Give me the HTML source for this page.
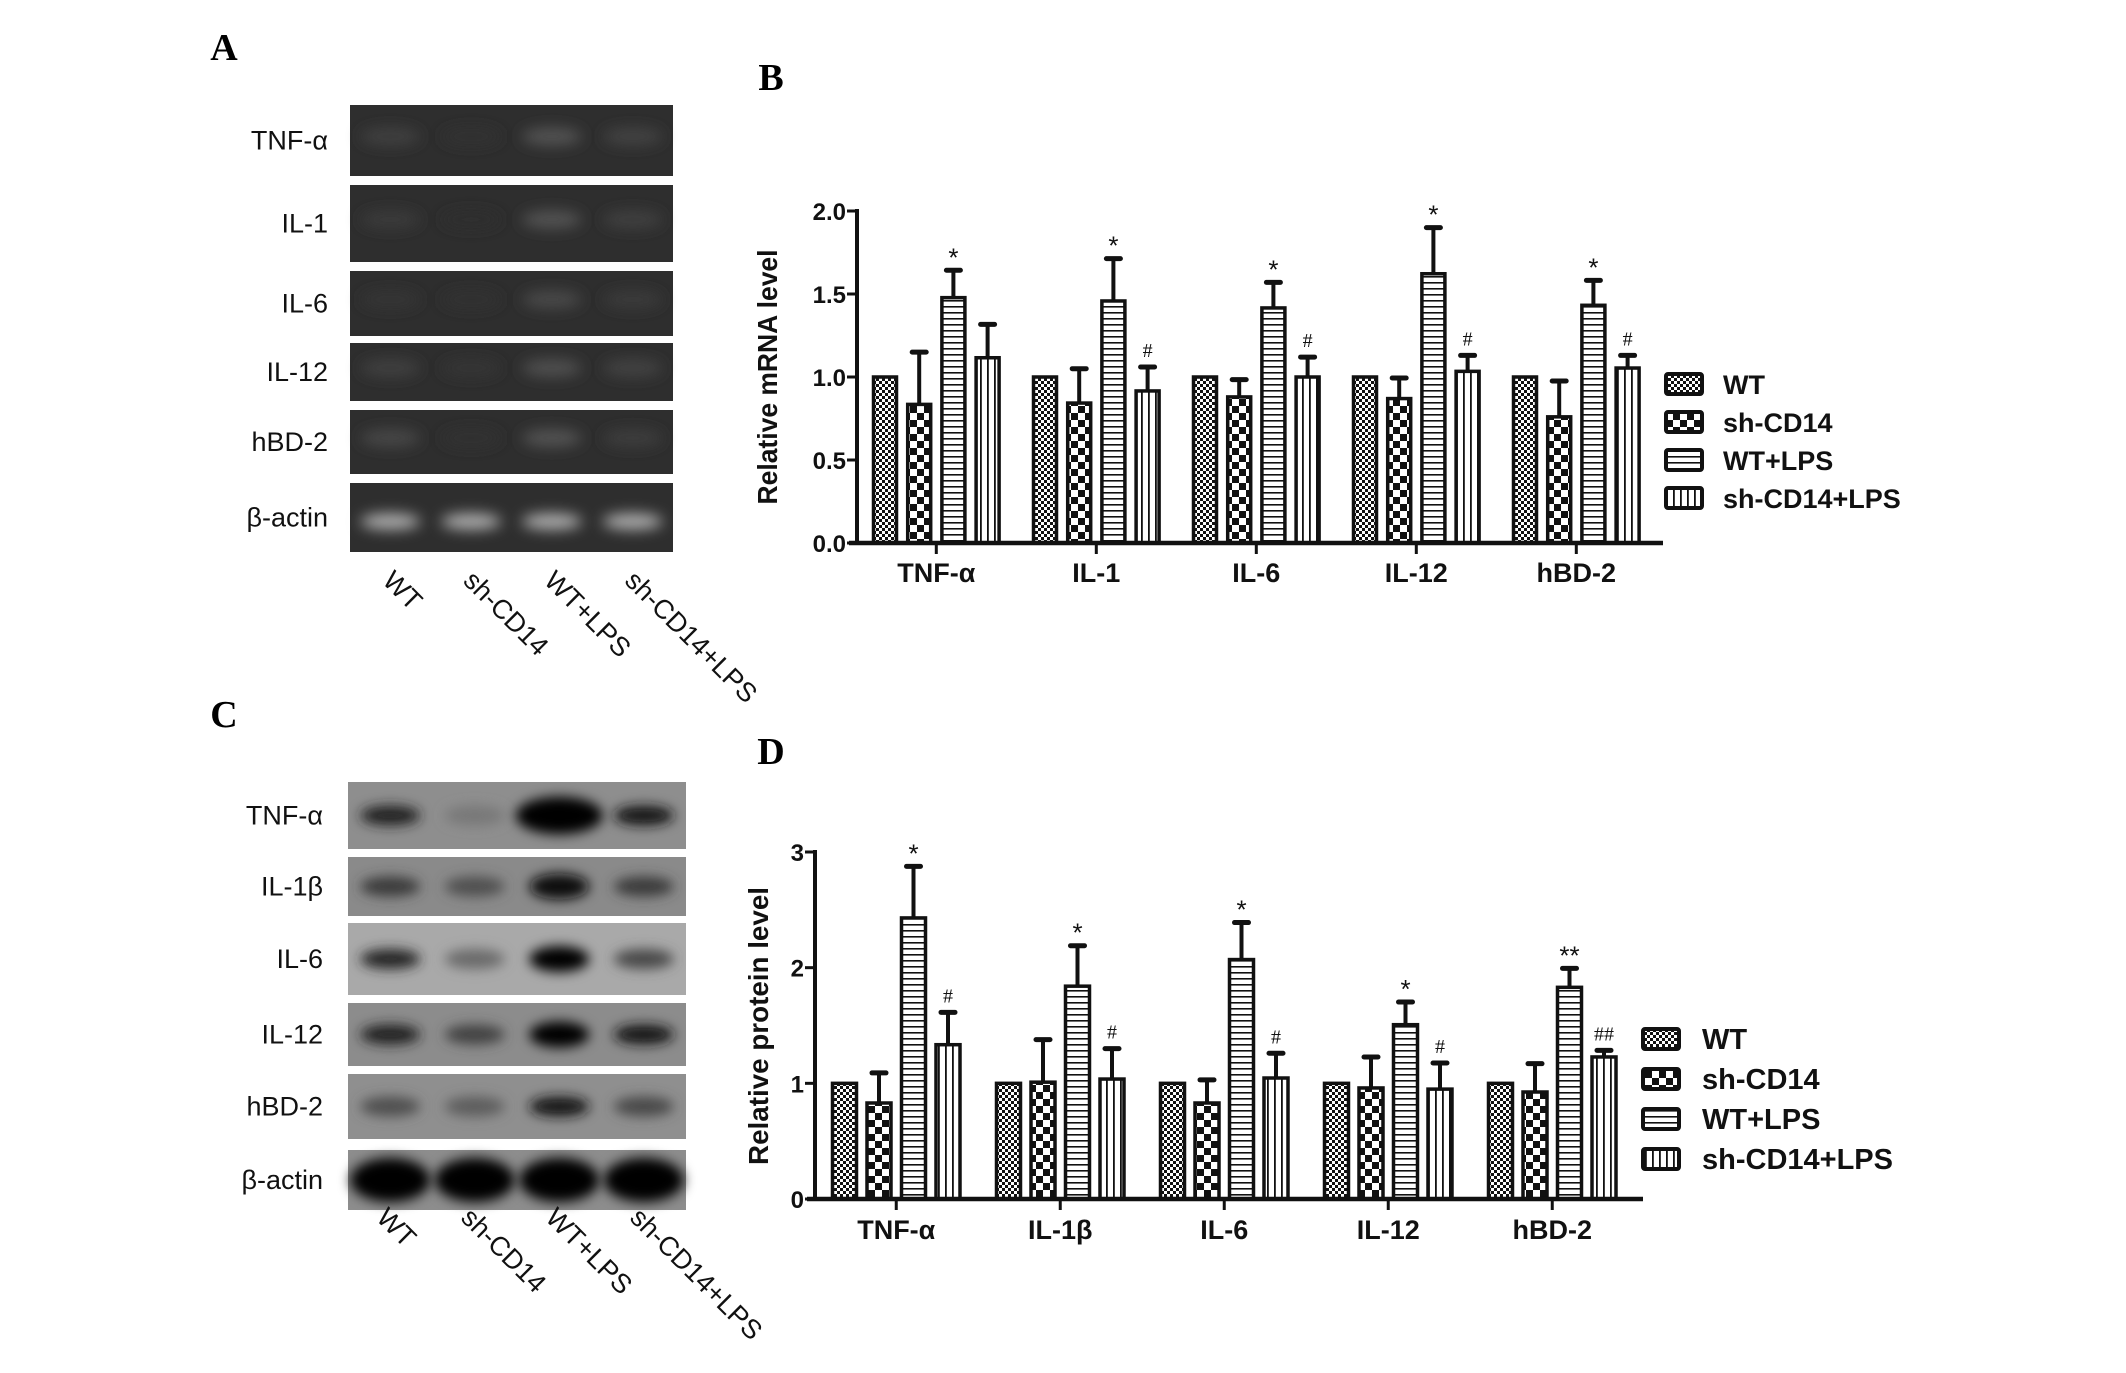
<!DOCTYPE html>
<html><head><meta charset="utf-8"><style>
html,body{margin:0;padding:0;background:#fff;}
svg{display:block;}
</style></head><body>
<svg id="fig" width="2126" height="1373" viewBox="0 0 2126 1373" xmlns="http://www.w3.org/2000/svg" font-family="Liberation Sans, sans-serif">
<defs>
<pattern id="pWT" patternUnits="userSpaceOnUse" width="6" height="6"><rect width="6" height="6" fill="#fff"/><rect width="3" height="3" fill="#111"/><rect x="3" y="3" width="3" height="3" fill="#111"/></pattern>
<pattern id="pSH" patternUnits="userSpaceOnUse" width="14" height="14"><rect width="14" height="14" fill="#fff"/><rect width="7" height="7" fill="#111"/><rect x="7" y="7" width="7" height="7" fill="#111"/></pattern>
<pattern id="pH" patternUnits="userSpaceOnUse" width="8" height="6"><rect width="8" height="6" fill="#fff"/><rect y="0" width="8" height="1.6" fill="#111"/></pattern>
<pattern id="pV" patternUnits="userSpaceOnUse" width="7" height="8"><rect width="7" height="8" fill="#fff"/><rect x="0" width="1.8" height="8" fill="#111"/></pattern>
<filter id="blurA" x="-50%" y="-100%" width="200%" height="300%"><feGaussianBlur stdDeviation="7"/></filter>
<filter id="blurC" x="-50%" y="-100%" width="200%" height="300%"><feGaussianBlur stdDeviation="6"/></filter>
</defs>
<g id="panelA"></g>
<g id="panelC"></g>
<g id="chartB"></g>
<g id="chartD"></g>
</svg>
<script>
// ---- Panel B data (relative mRNA level)
const categoriesB = ["TNF-α","IL-1","IL-6","IL-12","hBD-2"];
const seriesNames = ["WT","sh-CD14","WT+LPS","sh-CD14+LPS"];
const wtB = [1,1,1,1,1];
const shB = [0.835,0.843,0.88,0.87,0.76];
const lpsB = [1.478,1.458,1.416,1.622,1.432];
const shlpsB = [1.116,0.916,1.0,1.034,1.054];
const shErrB = [1.15,1.05,0.984,0.994,0.976];
const lpsErrB = [1.643,1.713,1.57,1.9,1.582];
const shlpsErrB = [1.317,1.06,1.12,1.13,1.13];
const lpsMarkB = ["*","*","*","*","*"];
const shlpsMarkB = ["","#","#","#","#"];
const ticksB = [0,0.5,1.0,1.5,2.0];
const tickLabelsB = ["0.0","0.5","1.0","1.5","2.0"];

// ---- Panel D data (relative protein level)
const categoriesD = ["TNF-α","IL-1β","IL-6","IL-12","hBD-2"];
const wtD = [1,1,1,1,1];
const shD = [0.83,1.01,0.83,0.96,0.925];
const lpsD = [2.43,1.84,2.07,1.507,1.83];
const shlpsD = [1.334,1.037,1.046,0.95,1.228];
const shErrD = [1.09,1.378,1.03,1.228,1.17];
const lpsErrD = [2.876,2.19,2.39,1.703,1.994];
const shlpsErrD = [1.614,1.30,1.26,1.176,1.285];
const lpsMarkD = ["*","*","*","*","**"];
const shlpsMarkD = ["#","#","#","#","##"];
const ticksD = [0,1,2,3];
const tickLabelsD = ["0","1","2","3"];

// ---- Gel band intensities
const gelRowsA = ["TNF-α","IL-1","IL-6","IL-12","hBD-2","β-actin"];
const gelA = [[0.3,0.08,0.6,0.35],[0.2,0.02,0.6,0.3],[0.12,0.05,0.45,0.22],[0.28,0.12,0.55,0.35],[0.4,0.08,0.6,0.25],[1,1,1,1]];
const gelRowsC = ["TNF-α","IL-1β","IL-6","IL-12","hBD-2","β-actin"];
const gelC = [[0.8,0.15,1.0,0.85],[0.6,0.45,0.95,0.6],[0.75,0.25,1.0,0.5],[0.8,0.55,1.0,0.85],[0.45,0.35,0.9,0.5],[1,1,1,1]];
const laneNames = ["WT","sh-CD14","WT+LPS","sh-CD14+LPS"];

const NS="http://www.w3.org/2000/svg";
function mk(tag, attrs, parent){const e=document.createElementNS(NS,tag);for(const k in attrs)e.setAttribute(k,attrs[k]);parent.appendChild(e);return e;}
function txt(parent, x, y, s, attrs){const e=mk("text",Object.assign({x:x,y:y},attrs||{}),parent);e.textContent=s;return e;}

const svg=document.getElementById("fig");
[["A",224,60],["B",771,90],["C",224,727],["D",771,764]].forEach(function(p){
  const t=txt(svg,p[1],p[2],p[0],{"font-family":"Liberation Serif, serif","font-weight":"bold","font-size":"38","text-anchor":"middle"});
  
  
});

// ---- Gel A
(function(){
  const g=document.getElementById("panelA");
  const rows=[[105,176],[185,262],[271,336],[343,401],[410,474],[483,552]];
  const x0=350,x1=673,lw=(x1-x0)/4;
  rows.forEach(function(r,i){
    const rr=mk("rect",{x:x0,y:r[0],width:x1-x0,height:r[1]-r[0],fill:"#2e2e2e"},g);
    
    
    const cy=(r[0]+r[1])/2 - (i==5?-4:4);
    gelA[i].forEach(function(v,j){
      const cx=x0+lw*(j+0.5);
      const c=Math.round(46+v*(i==5?130:60));
      const e=mk("ellipse",{cx:cx,cy:cy,rx:30,ry:i==5?8:9,fill:"rgb("+c+","+c+","+c+")",filter:"url(#blurA)"},g);
      
      
    });
    const t=txt(g,328,(r[0]+r[1])/2+9,gelRowsA[i],{"font-size":"27","text-anchor":"end",fill:"#111"});
    
    
  });
  laneNames.forEach(function(n,j){
    const cx=x0+lw*(j+0.5)-2;
    const t=txt(g,cx,585,n,{"font-size":"27",fill:"#111",transform:"rotate(45 "+cx+" 575)"});
    
    
  });
})();

// ---- Gel C
(function(){
  const g=document.getElementById("panelC");
  const rows=[[782,849],[857,916],[923,995],[1003,1066],[1074,1139],[1150,1210]];
  const bg=["#8e8e8e","#8a8a8a","#a9a9a9","#8c8c8c","#8f8f8f","#8d8d8d"];
  const x0=348,x1=686,lw=(x1-x0)/4;
  rows.forEach(function(r,i){
    const rr=mk("rect",{x:x0,y:r[0],width:x1-x0,height:r[1]-r[0],fill:bg[i]},g);
    
    
    const cy=(r[0]+r[1])/2;
    gelC[i].forEach(function(v,j){
      const cx=x0+lw*(j+0.5);
      const c=Math.round(140-v*135);
      const big=(i==0&&j==2)?1.45:1;
      const e=mk("ellipse",{cx:cx,cy:cy,rx:(i==5?40:30)*big,ry:(i==5?17:10)*big*(v>0.9?1.3:1),fill:"rgb("+c+","+c+","+c+")",filter:"url(#blurC)"},g);
      
      
    });
    const t=txt(g,323,cy+9,gelRowsC[i],{"font-size":"27","text-anchor":"end",fill:"#111"});
    
    
  });
  laneNames.forEach(function(n,j){
    const cx=x0+lw*(j+0.5)-8;
    const t=txt(g,cx,1222,n,{"font-size":"27",fill:"#111",transform:"rotate(45 "+cx+" 1212)"});
    
    
  });
})();

// ---- bar chart drawer
function drawChart(g, cfg){
  const yScale=function(v){return cfg.y0-(v/cfg.yMax)*(cfg.y0-cfg.yTop);};
  const series=[cfg.wt,cfg.sh,cfg.lps,cfg.shlps];
  const errs=[null,cfg.shErr,cfg.lpsErr,cfg.shlpsErr];
  const fills=["url(#pWT)","url(#pSH)","url(#pH)","url(#pV)"];
  const marks=[null,null,cfg.lpsMark,cfg.shlpsMark];
  const bandX=function(gi,si){return cfg.firstLeft+gi*cfg.groupStep+si*cfg.barStep;};
  cfg.categories.forEach(function(cat,gi){
    series.forEach(function(arr,si){
      const x=bandX(gi,si), w=cfg.barW, top=yScale(arr[gi]);
      if(errs[si]){
        const et=yScale(errs[si][gi]);
        const l=mk("line",{x1:x+w/2,x2:x+w/2,y1:top,y2:et,stroke:"#111","stroke-width":"4"},g);
        
        
        const c=mk("line",{x1:x+w/2-7,x2:x+w/2+7,y1:et,y2:et,stroke:"#111","stroke-width":"5","stroke-linecap":"round"},g);
        
        
      }
      const b=mk("rect",{x:x+1.5,y:top,width:w-3,height:cfg.y0-top,fill:fills[si],stroke:"#111","stroke-width":"3.5"},g);
      
      
      if(marks[si] && marks[si][gi]){
        const m=marks[si][gi];
        const et=yScale(errs[si][gi]);
        const star=m.indexOf("*")>=0;
        const t=txt(g,x+w/2,et-(star?4:10),m,{"font-size":star?"26":"20","text-anchor":"middle",fill:"#111","font-family":star?"Liberation Sans, sans-serif":"Liberation Serif, serif"});
        
        
      }
    });
    const cx=bandX(gi,0)+(3*cfg.barStep+cfg.barW)/2;
    const tk=mk("line",{x1:cx,x2:cx,y1:cfg.y0,y2:cfg.y0+11,stroke:"#111","stroke-width":"3"},g);
    
    
    const tl=txt(g,cx,cfg.catY,cat,{"font-size":"27","font-weight":"bold","text-anchor":"middle",fill:"#111"});
    
    
  });
  const ya=mk("line",{x1:cfg.axisX,x2:cfg.axisX,y1:cfg.yTop-2,y2:cfg.y0+2,stroke:"#111","stroke-width":"4"},g);
  
  
  const xa=mk("line",{x1:cfg.axisX-8,x2:cfg.xEnd,y1:cfg.y0,y2:cfg.y0,stroke:"#111","stroke-width":"4.5"},g);
  
  
  cfg.ticks.forEach(function(v,i){
    const y=yScale(v);
    const t=mk("line",{x1:cfg.axisX-10,x2:cfg.axisX,y1:y,y2:y,stroke:"#111","stroke-width":"3"},g);
    
    
    const l=txt(g,cfg.axisX-11,y+9,cfg.tickLabels[i],{"font-size":"24","font-weight":"bold","text-anchor":"end",fill:"#111"});
    
    
  });
  const tt=txt(g,0,0,cfg.title,{"font-size":"28","font-weight":"bold","text-anchor":"middle",fill:"#111",textLength:cfg.titleLen,lengthAdjust:"spacingAndGlyphs",transform:"translate("+cfg.titleX+","+cfg.titleY+") rotate(-90)"});
  
  
  seriesNames.forEach(function(n,i){
    const y=cfg.legY+i*cfg.legStep;
    const r=mk("rect",{x:cfg.legX+2,y:y-10,width:36,height:20,fill:fills[i],stroke:"#111","stroke-width":"4",rx:"2"},g);
    
    
    const t=txt(g,cfg.legX+cfg.legTextDx,y+10,n,{"font-size":cfg.legFont,"font-weight":"bold",fill:"#111"});
    
    
  });
}

drawChart(document.getElementById("chartB"),{
  categories:categoriesB,wt:wtB,sh:shB,lps:lpsB,shlps:shlpsB,shErr:shErrB,lpsErr:lpsErrB,shlpsErr:shlpsErrB,
  lpsMark:lpsMarkB,shlpsMark:shlpsMarkB,ticks:ticksB,tickLabels:tickLabelsB,yMax:2,
  y0:543,yTop:211,axisX:857,xEnd:1663,firstLeft:872,groupStep:160,barStep:34.2,barW:26,catY:582,
  title:"Relative mRNA level",titleLen:255,titleX:777,titleY:377,
  legX:1664,legY:384,legStep:38,legTextDx:59,legFont:"27"
});
drawChart(document.getElementById("chartD"),{
  categories:categoriesD,wt:wtD,sh:shD,lps:lpsD,shlps:shlpsD,shErr:shErrD,lpsErr:lpsErrD,shlpsErr:shlpsErrD,
  lpsMark:lpsMarkD,shlpsMark:shlpsMarkD,ticks:ticksD,tickLabels:tickLabelsD,yMax:3,
  y0:1199,yTop:852,axisX:815,xEnd:1643,firstLeft:831,groupStep:164,barStep:34.5,barW:27,catY:1239,
  title:"Relative protein level",titleLen:278,titleX:768,titleY:1026,
  legX:1641,legY:1039,legStep:40,legTextDx:61,legFont:"29"
});
</script>
</body></html>
